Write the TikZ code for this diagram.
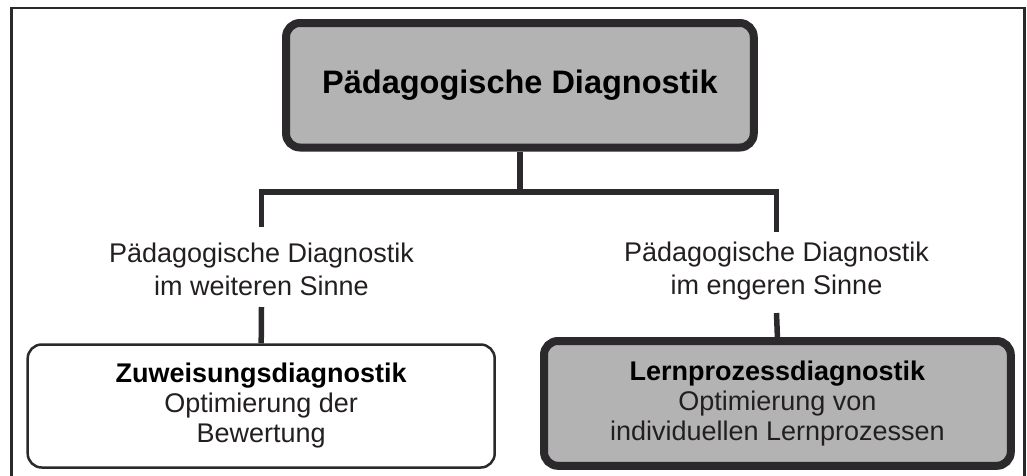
\documentclass[tikz,border=0pt]{standalone}
\usepackage{fontspec}
\setmainfont{Liberation Sans}
\definecolor{edge}{HTML}{2B292B}
\definecolor{boxgray}{HTML}{B3B3B3}
\definecolor{txt}{HTML}{231F20}
\begin{document}
\begin{tikzpicture}[x=1pt,y=-1pt,
  frame/.style={draw=edge,line width=2.5pt},
  conn/.style={draw=edge,line width=5.5pt},
  topbox/.style={draw=edge,line width=8pt,fill=boxgray,rounded corners=14pt,
    minimum width=467.7pt,minimum height=124.5pt,inner sep=0pt,
    font=\bfseries\fontsize{32.5}{39}\selectfont,text=black},
  lowbox/.style={rounded corners=14pt,minimum width=467pt,minimum height=123pt,
    inner sep=0pt,align=center,font=\fontsize{27}{30}\selectfont,text=txt},
  midlabel/.style={inner sep=0pt,align=center,font=\fontsize{27}{33}\selectfont,text=txt}]
\useasboundingbox (0,0) rectangle (1027,475);
\draw[frame] (11.3,490) -- (11.3,8) -- (1024.5,8) -- (1024.5,490);
\node[topbox] (top) at (519.9,85.25) {Pädagogische Diagnostik};
\node[midlabel] (ml) at (261.5,269.2) {Pädagogische Diagnostik\\im weiteren Sinne};
\node[midlabel] (mr) at (776.5,270.8) {Pädagogische Diagnostik\\im engeren Sinne};
\node[lowbox,draw=edge,line width=2.5pt,fill=white] (lb) at (261.2,406)
  {\textcolor{black}{\bfseries Zuweisungsdiagnostik}\\Optimierung der\\Bewertung};
\node[lowbox,draw=edge,line width=8pt,fill=boxgray,minimum width=466.8pt,minimum height=124.8pt] (rb) at (777.4,403.4)
  {\textcolor{black}{\bfseries Lernprozessdiagnostik}\\Optimierung von\\individuellen Lernprozessen};
\coordinate (j) at (519.9,192);
\coordinate (lt) at (261.5,227);
\coordinate (rt) at (776.5,232);
\coordinate (lbt) at (261.5,307);
\coordinate (rbt) at (776.5,313);
\draw[conn] (top.south) -- (j);
\draw[conn] (lt) |- (j) -| (rt);
\draw[conn] (lbt) -- (lb.north);
\draw[conn] (rbt) -- (rb.north);
\end{tikzpicture}
\end{document}
